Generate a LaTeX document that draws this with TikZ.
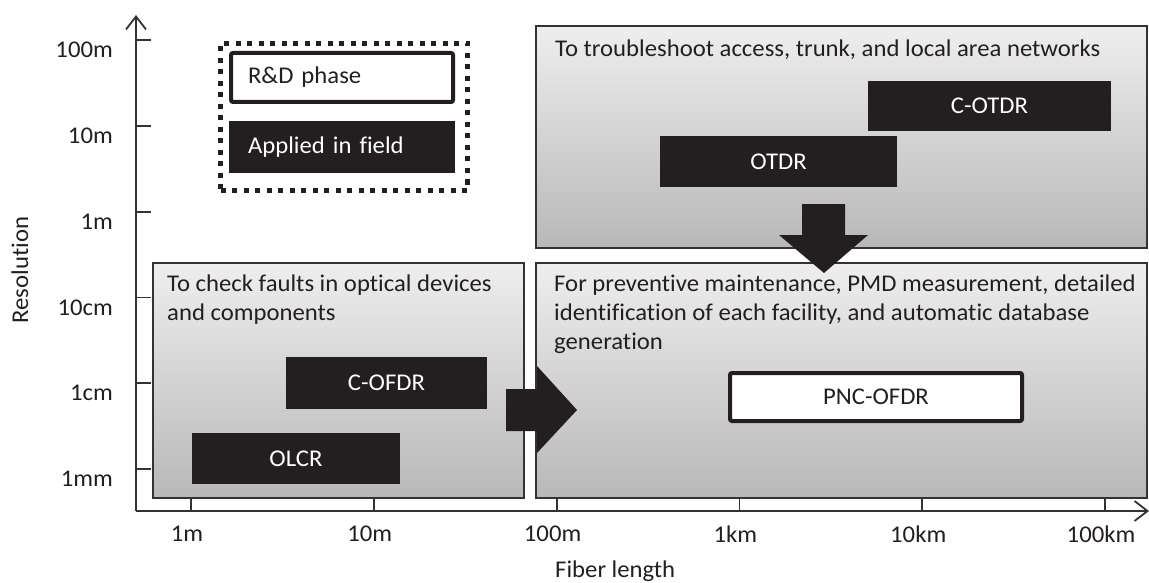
\documentclass[tikz,border=0pt]{standalone}
\usepackage{fontspec}
\setmainfont{Carlito}[FakeStretch=1.03, Ligatures=NoCommon]
\usetikzlibrary{arrows.meta}
\definecolor{ink}{HTML}{231F20}
\definecolor{rule}{HTML}{333333}
\definecolor{paneltop}{HTML}{EEEEEE}
\definecolor{panelbot}{HTML}{B8B8B8}
\begin{document}
\begin{tikzpicture}[x=1pt,y=-1pt,
  every node/.style={font=\fontsize{24}{29}\selectfont, text=ink},
  axisline/.style={line width=1.8pt, draw=rule},
  tickline/.style={line width=1.8pt, draw=rule},
  panel/.style={draw=rule, line width=2pt, top color=paneltop, bottom color=panelbot,
    anchor=north west, inner sep=0pt},
  paneltext/.style={anchor=north west, inner sep=0pt, align=left},
  blackbox/.style={fill=ink, draw=none, text=white, inner sep=0pt},
  whitebox/.style={fill=white, draw=ink, line width=4pt, rounded corners=2pt, inner sep=0pt},
  blockarrow/.style={fill=ink, draw=none},
  ylab/.style={anchor=east, inner sep=0pt},
  xlab/.style={anchor=center, inner sep=0pt},
]
\useasboundingbox (0,0) rectangle (1149,583);

% ---------- axes ----------
\coordinate (origin) at (136,511);
\coordinate (ytop) at (136,15);
\coordinate (xend) at (1149,511);
\draw[axisline, -{Straight Barb[length=13pt,width=20pt]}] (origin) -- (ytop);
\draw[axisline, -{Straight Barb[length=13pt,width=20pt]}] (origin) -- (xend);

% vertical ticks and labels
\foreach \y/\lab in {40/100m, 125.8/10m, 211.6/1m, 297.4/10cm, 383.2/1cm, 469/1mm}{
  \draw[tickline] (136,\y) -- (151,\y);
  \node[ylab] at (113,\y+10) {\lab};
}
% horizontal ticks and labels
\foreach \x/\lab in {191/1m, 373.8/10m, 556.6/100m, 739.4/1km, 922.2/10km, 1105/100km}{
  \draw[tickline] (\x,511) -- (\x,497);
  \node[xlab] at (\x-4,534) {\lab};
}
\node[rotate=90, inner sep=0pt] (ylabel) at (20,270) {Resolution};
\node[anchor=base west, inner sep=0pt] (xlabel) at (555,577) {Fiber length};

% ---------- application panels ----------
\node[panel, minimum width=371pt, minimum height=235pt] (devices) at (152,262) {};
\node[panel, minimum width=611pt, minimum height=235pt] (maint) at (535,262) {};
\node[panel, minimum width=611pt, minimum height=222pt] (trouble) at (535,25) {};

\node[paneltext] (devtext) at (167,275) {To check faults in optical devices\\and components};
\node[paneltext] (mainttext) at (554,275) {For preventive maintenance, PMD measurement, detailed\\identification of each facility, and automatic database\\generation};
\node[paneltext] (troubletext) at (555,40) {To troubleshoot access, trunk, and local area networks};

% ---------- techniques ----------
\node[blackbox, minimum width=243pt, minimum height=50pt] (cotdr) at (989.5,106) {C-OTDR};
\node[blackbox, minimum width=237pt, minimum height=51pt] (otdr) at (778.5,161.5) {OTDR};
\node[blackbox, minimum width=201pt, minimum height=52pt] (cofdr) at (386.5,383) {C-OFDR};
\node[blackbox, minimum width=208pt, minimum height=51pt] (olcr) at (296,458.5) {OLCR};
\node[whitebox, minimum width=292pt, minimum height=48pt] (pncofdr) at (876,397) {PNC-OFDR};

% ---------- block arrows ----------
\fill[blockarrow] (802,204) -- (845,204) -- (845,235) -- (868,235) -- (824,273)
  -- (779,235) -- (802,235) -- cycle;
\fill[blockarrow] (506,389) -- (537,389) -- (537,366) -- (577,410) -- (537,453)
  -- (537,431) -- (506,431) -- cycle;

% ---------- legend ----------
\node[draw=ink, line width=4.5pt, dash pattern=on 5pt off 6.5pt, minimum width=247pt,
  minimum height=147pt, inner sep=0pt] (legend) at (344,117) {};
\node[whitebox, text width=188pt, inner xsep=17pt, minimum height=49pt, align=left]
  (rd) at (342,77.5) {R\&D phase};
\node[blackbox, text width=188pt, inner xsep=19pt, minimum height=52pt, align=left]
  (field) at (342,147) {Applied in field};
\end{tikzpicture}
\end{document}
